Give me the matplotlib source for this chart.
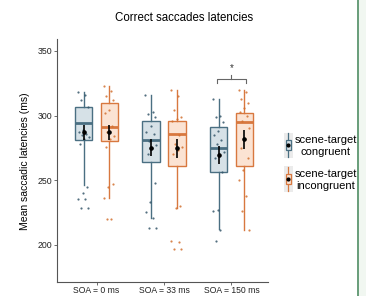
import numpy as np
import matplotlib
matplotlib.use("Agg")
import matplotlib.pyplot as plt
from matplotlib.patches import Rectangle
from matplotlib.lines import Line2D
from matplotlib.legend_handler import HandlerBase

plt.rcParams['font.family'] = ['Liberation Sans', 'DejaVu Sans']

categories = ["SOA = 0 ms", "SOA = 33 ms", "SOA = 150 ms"]
conditions = ["scene-target\ncongruent", "scene-target\nincongruent"]

# box statistics per condition, per SOA
cong_q1 = [281, 264, 256]
cong_med = [294, 281, 275]
cong_q3 = [307, 296, 291]
cong_lo = [246, 221, 212]
cong_hi = [318, 316, 313]
inc_q1 = [280, 261, 261]
inc_med = [291, 286, 295]
inc_q3 = [310, 296, 302]
inc_lo = [236, 228, 211]
inc_hi = [323, 320, 320]

cong_mean = [287, 275, 269.5]
cong_se = [6, 6.5, 7]
inc_mean = [287, 274.5, 281.5]
inc_se = [6, 7, 7.5]

cong_pts = [
    [318, 316, 312, 307, 289, 287, 286, 285, 283, 282, 278, 245, 240, 235, 235, 228, 228],
    [316, 303, 301, 299, 292, 287, 286, 280, 277, 275, 270, 248, 233, 225, 221, 213, 213],
    [313, 300, 299, 295, 288, 285, 281, 278, 272, 269, 267, 256, 227, 226, 211, 203],
]
inc_pts = [
    [323, 319, 315, 312, 304, 302, 292, 287, 284, 282, 276, 247, 245, 236, 220, 220],
    [320, 315, 304, 299, 297, 296, 285, 278, 276, 273, 270, 230, 228, 203, 202, 197, 197],
    [320, 318, 313, 310, 306, 303, 300, 296, 290, 282, 275, 267, 258, 250, 238, 226, 211],
]

yticks = [200, 250, 300, 350]

cong_edge = "#4a6f82"
cong_fill = "#d6e1e7"
cong_pt = "#35566a"
inc_edge = "#d8783f"
inc_fill = "#fbe3d3"
inc_pt = "#d2702f"

fig = plt.figure(figsize=(3.66, 2.96), dpi=100)
ax = fig.add_axes([0.155, 0.047, 0.577, 0.82])

x = np.arange(1, len(categories) + 1)
off = 0.19
bw = 0.26

def stats(q1, med, q3, lo, hi):
    return [dict(q1=a, med=b, q3=c, whislo=d, whishi=e, fliers=[]) for a, b, c, d, e in zip(q1, med, q3, lo, hi)]

for st, pos, edge, fill in [
    (stats(cong_q1, cong_med, cong_q3, cong_lo, cong_hi), x - off, cong_edge, cong_fill),
    (stats(inc_q1, inc_med, inc_q3, inc_lo, inc_hi), x + off, inc_edge, inc_fill),
]:
    ax.bxp(st, positions=pos, widths=bw, patch_artist=True, showcaps=False,
           boxprops=dict(facecolor=fill, edgecolor=edge, linewidth=1.0),
           medianprops=dict(color=edge, linewidth=2.0),
           whiskerprops=dict(color=edge, linewidth=1.0), zorder=2)

# jittered points (deterministic jitter)
for pts_all, pos, col in [(cong_pts, x - off, cong_pt), (inc_pts, x + off, inc_pt)]:
    for p, pts in zip(pos, pts_all):
        n = len(pts)
        jit = (((np.arange(n) * 0.618) % 1.0) - 0.5) * 0.17
        ax.scatter(p + jit, pts, s=2.5, color=col, alpha=0.85, linewidths=0, zorder=3)

# mean +/- SE
for means, ses, pos in [(cong_mean, cong_se, x - off), (inc_mean, inc_se, x + off)]:
    ax.errorbar(pos, means, yerr=ses, fmt='o', color='black', markersize=2.3,
                elinewidth=1.2, capsize=0, zorder=4)

# significance bracket at SOA = 150
bx0, bx1 = x[2] - off - 0.02, x[2] + off + 0.02
ax.plot([bx0, bx0, bx1, bx1], [325.5, 328.5, 328.5, 325.5], color="#666666", lw=0.8, zorder=2)
ax.plot([x[2], x[2]], [328.5, 331.5], color="#666666", lw=0.8)
ax.text(x[2], 333, "*", ha='center', va='bottom', fontsize=7, color='#333333')

ax.set_xlim(0.41, 3.54)
ax.set_ylim(171, 359)
ax.set_xticks(x)
ax.set_xticklabels(categories, fontsize=6.2, color='#222222')
ax.set_yticks(yticks)
ax.set_yticklabels([str(v) for v in yticks], fontsize=6.3, color='#222222')
ax.tick_params(length=2, width=0.6, color='#555555', pad=1)
for s in ['top', 'right']:
    ax.spines[s].set_visible(False)
for s in ['left', 'bottom']:
    ax.spines[s].set_color('#555555')
    ax.spines[s].set_linewidth(0.8)
ax.set_ylabel("Mean saccadic latencies (ms)", fontsize=7.5, labelpad=6)

fig.text(0.503, 0.94, "Correct saccades latencies", ha='center', va='center', fontsize=8.3)

# legend with box-plot glyphs
class BoxHandler(HandlerBase):
    def __init__(self, edge, fill):
        super().__init__()
        self.edge, self.fill = edge, fill
    def create_artists(self, legend, orig, xd, yd, w, h, fontsize, trans):
        cx = xd + w / 2
        bg = Rectangle((xd, yd - h * 1.0), w, h * 3.0, facecolor='#ebebeb', edgecolor='none', transform=trans)
        ln = Line2D([cx, cx], [yd - h * 0.9, yd + h * 1.9], color=self.edge, lw=0.9, transform=trans)
        bx = Rectangle((cx - w * 0.3, yd - h * 0.1), w * 0.6, h * 1.2, facecolor=self.fill,
                       edgecolor=self.edge, lw=0.9, transform=trans)
        dot = Line2D([cx], [yd + h * 0.5], marker='o', markersize=2, color='black', transform=trans)
        return [bg, ln, bx, dot]

h1 = Rectangle((0, 0), 1, 1)
h2 = Rectangle((0, 0), 1, 1)
leg = fig.legend([h1, h2], conditions, loc='center left', bbox_to_anchor=(0.748, 0.45),
                 frameon=False, fontsize=8, handlelength=0.8, handleheight=0.8,
                 handletextpad=0.15, labelspacing=1.1,
                 handler_map={h1: BoxHandler(cong_edge, cong_fill), h2: BoxHandler(inc_edge, inc_fill)})
for t in leg.get_texts():
    t.set_multialignment('center')

# right-hand page border
fig.add_artist(Rectangle((358.5 / 366, 0), 1, 1, transform=fig.transFigure,
                         facecolor='#f1f7f1', edgecolor='none'))
fig.add_artist(Line2D([358 / 366, 358 / 366], [0, 1], transform=fig.transFigure,
                      color='#4e8c62', lw=1.2))

fig.savefig("out.png", dpi=100)
